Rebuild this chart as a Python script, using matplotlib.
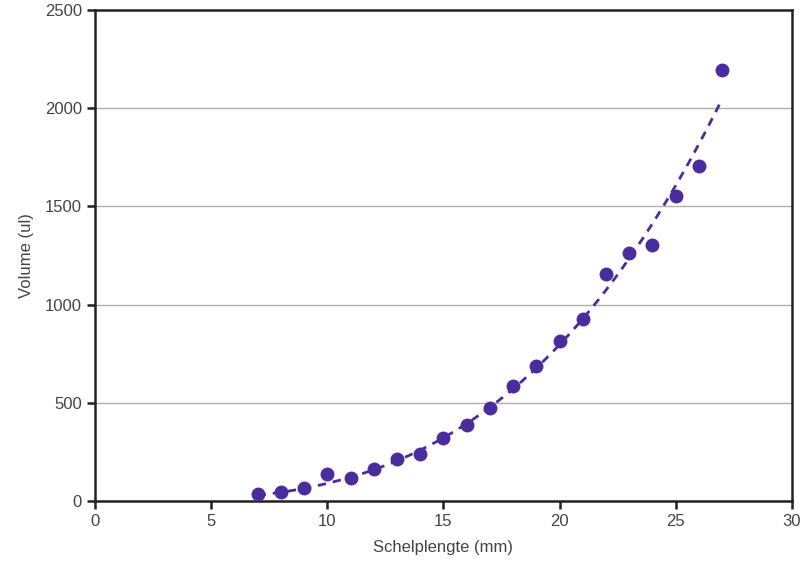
import numpy as np
import matplotlib
matplotlib.use("Agg")
import matplotlib.pyplot as plt

plt.rcParams["font.family"] = ["Liberation Sans", "DejaVu Sans"]

# Shell length (mm) and volume (ul)
lengte = [7, 8, 9, 10, 11, 12, 13, 14, 15, 16, 17, 18, 19, 20, 21, 22, 23, 24, 25, 26, 27]
volume = [36, 46, 66, 137, 117, 163, 214, 239, 321, 387, 473, 585, 687, 815, 927,
          1156, 1263, 1303, 1553, 1706, 2195]

x_ticks = [0, 5, 10, 15, 20, 25, 30]
y_ticks = [0, 500, 1000, 1500, 2000, 2500]

paars = "#4a2d9c"

fig = plt.figure(figsize=(8.01, 5.62), dpi=100)
ax = fig.add_axes([0.1186, 0.1085, 0.8700, 0.8735])

# power trendline y = a*x^b, least squares in linear space
xd = np.array(lengte, float)
yd = np.array(volume, float)
best = None
for b in np.linspace(2.5, 4.5, 2001):
    p = xd ** b
    a = (p @ yd) / (p @ p)
    err = ((a * p - yd) ** 2).sum()
    if best is None or err < best[0]:
        best = (err, a, b)
_, a, b = best
xs = np.linspace(xd.min(), xd.max(), 200)
ax.plot(xs, a * xs ** b, linestyle=(0, (3, 2.5)), color=paars, lw=2, zorder=3)

ax.plot(lengte, volume, "o", color=paars, markersize=9, zorder=4)

ax.set_xlim(0, 30)
ax.set_ylim(0, 2500)
ax.set_xticks(x_ticks)
ax.set_yticks(y_ticks)
ax.yaxis.grid(True, color="#b0b0b0", lw=1)
ax.set_axisbelow(True)

for s in ax.spines.values():
    s.set_linewidth(1.8)
    s.set_color("#222222")
ax.tick_params(direction="out", length=6, width=1.8, labelsize=12, colors="#222222",
               labelcolor="#444444")

ax.set_xlabel("Schelplengte (mm)", fontsize=12, color="#444444", labelpad=8)
ax.set_ylabel("Volume (ul)", fontsize=12, color="#444444", labelpad=8)

fig.savefig("out.png", dpi=100)
